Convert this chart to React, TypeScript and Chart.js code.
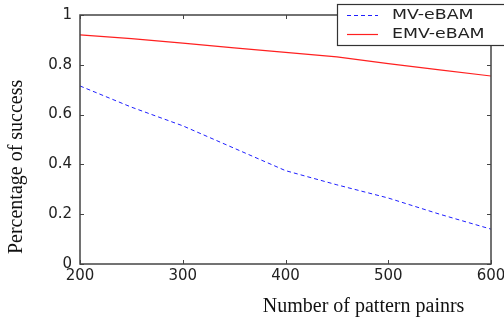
import React, { useEffect, useRef } from "react";
import { Chart, registerables } from "chart.js";

Chart.register(...registerables);

const xValues = [200, 250, 300, 350, 400, 450, 500, 550, 600];
const mvValues = [0.715, 0.63, 0.555, 0.465, 0.375, 0.318, 0.265, 0.2, 0.14];
const emvValues = [0.92, 0.905, 0.887, 0.868, 0.85, 0.832, 0.805, 0.78, 0.755];
const seriesLabels = ["MV-eBAM", "EMV-eBAM"];
const xTitle = "Number of pattern painrs";
const yTitle = "Percentage of success";

const framePlugin = {
  id: "frame",
  afterDatasetsDraw(chart: any) {
    const { ctx, chartArea: a, scales } = chart;
    ctx.save();
    ctx.strokeStyle = "#444";
    ctx.lineWidth = 1.5;
    ctx.strokeRect(a.left, a.top, a.right - a.left, a.bottom - a.top);
    ctx.lineWidth = 1;
    const tl = 4;
    scales.x.ticks.forEach((t: any) => {
      const px = Math.round(scales.x.getPixelForValue(t.value)) + 0.5;
      ctx.beginPath();
      ctx.moveTo(px, a.bottom);
      ctx.lineTo(px, a.bottom - tl);
      ctx.moveTo(px, a.top);
      ctx.lineTo(px, a.top + tl);
      ctx.stroke();
    });
    scales.y.ticks.forEach((t: any) => {
      const py = Math.round(scales.y.getPixelForValue(t.value)) + 0.5;
      ctx.beginPath();
      ctx.moveTo(a.left, py);
      ctx.lineTo(a.left + tl, py);
      ctx.moveTo(a.right, py);
      ctx.lineTo(a.right - tl, py);
      ctx.stroke();
    });
    // axis titles
    ctx.fillStyle = "#111";
    ctx.font = '20px "Liberation Serif", "Times New Roman", serif';
    ctx.textAlign = "center";
    ctx.textBaseline = "middle";
    ctx.fillText(xTitle, a.left + (a.right - a.left) * 0.69, a.bottom + 43);
    ctx.save();
    ctx.translate(17, a.top + (a.bottom - a.top) * 0.61);
    ctx.rotate(-Math.PI / 2);
    ctx.fillText(yTitle, 0, 0);
    ctx.restore();
    ctx.restore();
  },
};

const legendPlugin = {
  id: "boxLegend",
  afterDraw(chart: any) {
    const { ctx, width } = chart;
    const left = 337;
    const top = 4;
    const bottom = 45;
    ctx.save();
    ctx.fillStyle = "#fff";
    ctx.fillRect(left, top, width - left + 2, bottom - top);
    ctx.strokeStyle = "#333";
    ctx.lineWidth = 1.2;
    ctx.strokeRect(left + 0.5, top + 0.5, width - left + 4, bottom - top);
    chart.data.datasets.forEach((ds: any, i: number) => {
      const y = 15 + i * 19;
      ctx.strokeStyle = ds.borderColor;
      ctx.lineWidth = 1.2;
      ctx.setLineDash(ds.borderDash || []);
      ctx.beginPath();
      ctx.moveTo(347, y + 0.5);
      ctx.lineTo(378, y + 0.5);
      ctx.stroke();
      ctx.setLineDash([]);
      ctx.fillStyle = "#222";
      ctx.font = '14px "DejaVu Sans", sans-serif';
      ctx.textAlign = "left";
      ctx.textBaseline = "middle";
      ctx.save();
      ctx.translate(392, y);
      ctx.scale(1.24, 1);
      ctx.fillText(ds.label, 0, 0);
      ctx.restore();
    });
    ctx.restore();
  },
};

export default function App() {
  const ref = useRef<HTMLCanvasElement>(null);
  useEffect(() => {
    document.body.style.margin = "0";
    const chart = new Chart(ref.current!, {
      type: "line",
      data: {
        datasets: [
          {
            label: seriesLabels[0],
            data: xValues.map((x, i) => ({ x, y: mvValues[i] })),
            borderColor: "#1f1fff",
            borderWidth: 1,
            borderDash: [4, 3],
            pointRadius: 0,
            tension: 0,
          },
          {
            label: seriesLabels[1],
            data: xValues.map((x, i) => ({ x, y: emvValues[i] })),
            borderColor: "#ff2020",
            borderWidth: 1.2,
            pointRadius: 0,
            tension: 0,
          },
        ],
      },
      options: {
        animation: false,
        responsive: true,
        maintainAspectRatio: false,
        layout: { padding: { top: 15, right: 13, left: 0, bottom: 0 } },
        plugins: { legend: { display: false }, tooltip: { enabled: false } },
        scales: {
          x: {
            type: "linear",
            min: 200,
            max: 600,
            grid: { display: false, drawTicks: false },
            border: { display: false },
            ticks: {
              stepSize: 100,
              padding: 3,
              color: "#222",
              font: { family: '"DejaVu Sans", sans-serif', size: 15 },
              maxRotation: 0,
            },
            afterFit: (s: any) => {
              s.height = 57;
              s.paddingLeft = 0;
              s.paddingRight = 0;
            },
          },
          y: {
            type: "linear",
            min: 0,
            max: 1,
            grid: { display: false, drawTicks: false },
            border: { display: false },
            ticks: {
              stepSize: 0.2,
              padding: 8,
              color: "#222",
              font: { family: '"DejaVu Sans", sans-serif', size: 15 },
              callback: (v: any) => String(Math.round(Number(v) * 10) / 10),
            },
            afterFit: (s: any) => {
              s.width = 80;
              s.paddingTop = 0;
              s.paddingBottom = 0;
            },
          },
        },
      },
      plugins: [framePlugin, legendPlugin],
    });
    return () => chart.destroy();
  }, []);
  return (
    <div style={{ width: 504, height: 321, position: "relative" }}>
      <canvas ref={ref} />
    </div>
  );
}
